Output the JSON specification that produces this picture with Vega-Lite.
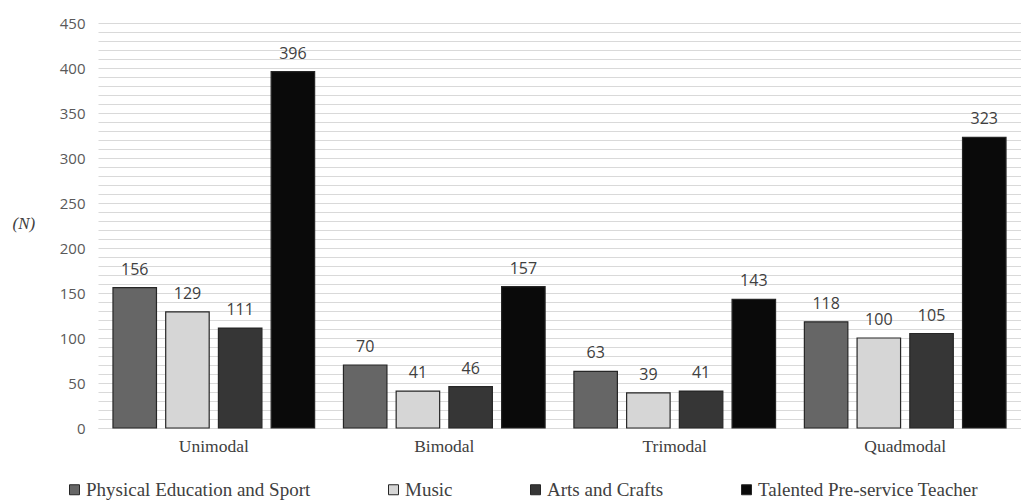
{
  "$schema": "https://vega.github.io/schema/vega-lite/v6.json",
  "width": 923,
  "height": 405,
  "autosize": "none",
  "padding": {"left": 98, "top": 23, "right": 0, "bottom": 75},
  "background": "white",
  "config": {"view": {"stroke": null}},
  "data": {
    "values": [
      {"mode": "Unimodal", "group": "Physical Education and Sport", "n": 156},
      {"mode": "Unimodal", "group": "Music", "n": 129},
      {"mode": "Unimodal", "group": "Arts and Crafts", "n": 111},
      {"mode": "Unimodal", "group": "Talented Pre-service Teacher", "n": 396},
      {"mode": "Bimodal", "group": "Physical Education and Sport", "n": 70},
      {"mode": "Bimodal", "group": "Music", "n": 41},
      {"mode": "Bimodal", "group": "Arts and Crafts", "n": 46},
      {"mode": "Bimodal", "group": "Talented Pre-service Teacher", "n": 157},
      {"mode": "Trimodal", "group": "Physical Education and Sport", "n": 63},
      {"mode": "Trimodal", "group": "Music", "n": 39},
      {"mode": "Trimodal", "group": "Arts and Crafts", "n": 41},
      {"mode": "Trimodal", "group": "Talented Pre-service Teacher", "n": 143},
      {"mode": "Quadmodal", "group": "Physical Education and Sport", "n": 118},
      {"mode": "Quadmodal", "group": "Music", "n": 100},
      {"mode": "Quadmodal", "group": "Arts and Crafts", "n": 105},
      {"mode": "Quadmodal", "group": "Talented Pre-service Teacher", "n": 323}
    ]
  },
  "encoding": {
    "x": {
      "field": "mode", "type": "nominal",
      "sort": ["Unimodal", "Bimodal", "Trimodal", "Quadmodal"],
      "scale": {"paddingInner": 0.125, "paddingOuter": 0.065},
      "axis": {
        "title": null, "labelAngle": 0, "ticks": false,
        "domainColor": "#d9d9d9", "labelFont": "Liberation Serif",
        "labelFontSize": 17.5, "labelColor": "#404040", "labelPadding": 9
      }
    },
    "xOffset": {
      "field": "group", "type": "nominal",
      "sort": ["Physical Education and Sport", "Music", "Arts and Crafts", "Talented Pre-service Teacher"],
      "scale": {"paddingInner": 0.175, "paddingOuter": 0}
    },
    "y": {
      "field": "n", "type": "quantitative",
      "scale": {"domain": [0, 450], "nice": false},
      "axis": {
        "values": [0,10,20,30,40,50,60,70,80,90,100,110,120,130,140,150,160,170,180,190,200,210,220,230,240,250,260,270,280,290,300,310,320,330,340,350,360,370,380,390,400,410,420,430,440,450],
        "labelExpr": "datum.value % 50 === 0 ? datum.label : ''",
        "domain": false, "ticks": false,
        "gridColor": "#d9d9d9", "gridWidth": 1,
        "labelFont": "Open Sans", "labelFontSize": 15, "labelColor": "#595959",
        "labelPadding": 13,
        "title": "(N)", "titleAngle": 0, "titleFont": "Liberation Serif",
        "titleFontStyle": "italic", "titleFontWeight": "normal", "titleFontSize": 17,
        "titleColor": "#404040", "titleX": -86, "titleY": 200, "titleAlign": "left", "titleBaseline": "middle"
      }
    }
  },
  "layer": [
    {
      "mark": {"type": "bar", "stroke": "#262626", "strokeWidth": 1.2},
      "encoding": {
        "fill": {
          "field": "group", "type": "nominal",
          "sort": ["Physical Education and Sport", "Music", "Arts and Crafts", "Talented Pre-service Teacher"],
          "scale": {
            "domain": ["Physical Education and Sport", "Music", "Arts and Crafts", "Talented Pre-service Teacher"],
            "range": ["#666666", "#d6d6d6", "#363636", "#0a0a0a"]
          },
          "legend": {
            "title": null, "orient": "none", "direction": "horizontal",
            "legendX": -33, "legendY": 457,
            "symbolType": "square", "symbolSize": 100, "symbolStrokeColor": "#262626", "symbolStrokeWidth": 1,
            "labelFont": "Liberation Serif", "labelFontSize": 19, "labelColor": "#404040",
            "columnPadding": 73, "labelOffset": 2, "labelLimit": 400
          }
        }
      }
    },
    {
      "mark": {"type": "text", "baseline": "alphabetic", "dy": -13, "font": "Open Sans", "fontSize": 16, "color": "#404040"},
      "encoding": {
        "text": {"field": "n", "type": "quantitative"}
      }
    }
  ]
}
